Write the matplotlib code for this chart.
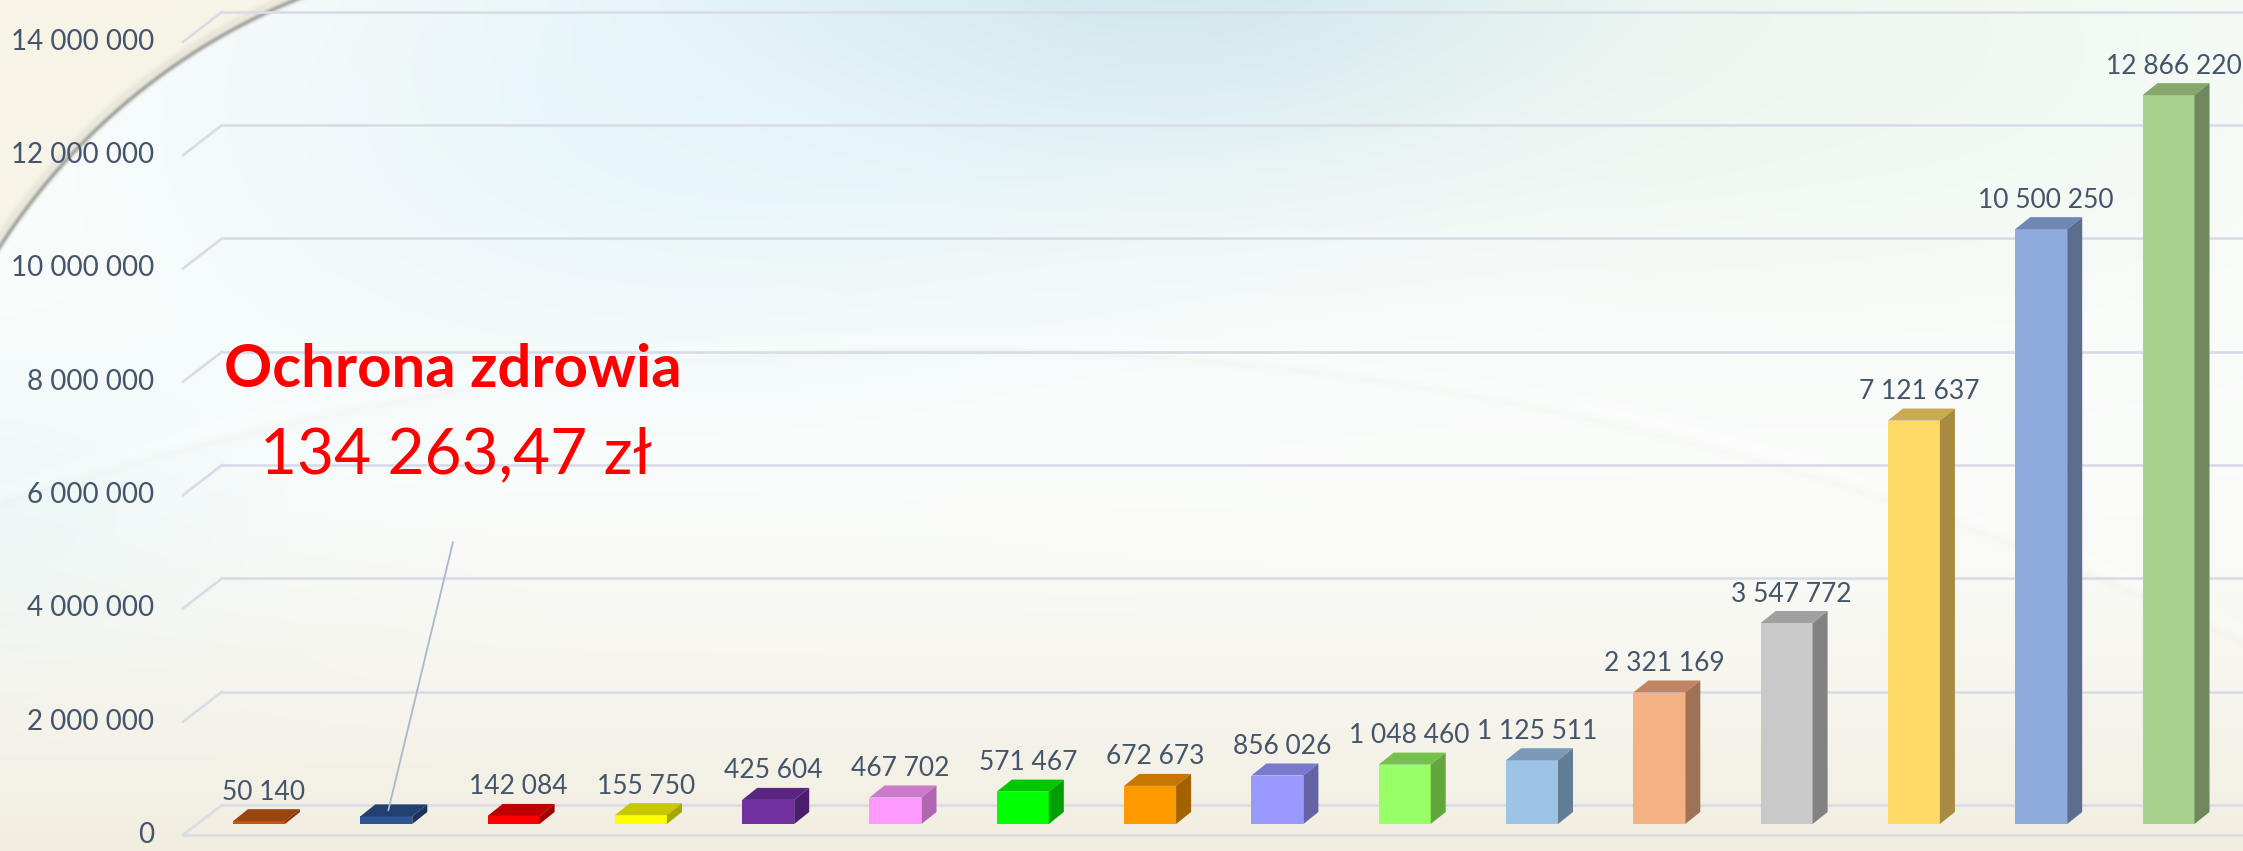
import numpy as np
import matplotlib
matplotlib.use("Agg")
import matplotlib.pyplot as plt
from matplotlib.patches import Polygon

# ---------------- data ----------------
values = [50140, 134263.47, 142084, 155750, 425604, 467702, 571467, 672673,
          856026, 1048460, 1125511, 2321169, 3547772, 7121637, 10500250, 12866220]
front_colors = ['#C65911', '#2F5597', '#FF0000', '#FFFF00', '#7030A0', '#FF99FF',
                '#00FF00', '#FF9900', '#9999FF', '#99FF66', '#9DC3E6', '#F4B183',
                '#C9C9C9', '#FFD966', '#8FAADC', '#A9D18E']
top_colors = ['#9A4510', '#22406F', '#C00000', '#C8C800', '#5A2582', '#CC7ACC',
              '#00C800', '#C87800', '#7A7ACC', '#76C04C', '#7A9AB8', '#C28564',
              '#A0A0A0', '#C9AB50', '#7186B3', '#86A86F']
side_colors = ['#7F380C', '#1C3358', '#A00000', '#A6A600', '#4A1E6C', '#B066B0',
               '#00A000', '#A36200', '#6363A6', '#62A63D', '#637D96', '#9E7254',
               '#828282', '#A68B40', '#5C6D90', '#6E875C']
yticks = [0, 2000000, 4000000, 6000000, 8000000, 10000000, 12000000, 14000000]
ytick_labels = ['0', '2 000 000', '4 000 000', '6 000 000', '8 000 000',
                '10 000 000', '12 000 000', '14 000 000']
callout_index = 1
callout_title = 'Ochrona zdrowia'
callout_value = '134 263,47 zł'

# ---------------- figure ----------------
W, H, DPI = 2243, 851, 100
fig = plt.figure(figsize=(W / DPI, H / DPI), dpi=DPI)

# background (decorative gradient)
Yg, Xg = np.mgrid[0:H, 0:W].astype(float)
bg = np.ones((H, W, 3)) * np.array([0.985, 0.99, 0.985])


def mix(img, col, a):
    a = np.clip(a, 0, 1)[..., None]
    return img * (1 - a) + np.array(col) * a


bg = mix(bg, (0.79, 0.89, 0.92), 0.9 * np.exp(-(((Xg - 1150) / 520) ** 2 + ((Yg + 40) / 220) ** 2)))
bg = mix(bg, (0.88, 0.96, 0.98), 0.55 * np.exp(-(((Xg - 650) / 500) ** 2 + ((Yg - 150) / 250) ** 2)))
bg = mix(bg, (0.91, 0.96, 0.91), 0.5 * np.exp(-(((Xg - 1900) / 500) ** 2 + ((Yg - 60) / 250) ** 2)))
bg = mix(bg, (0.87, 0.96, 0.97), 0.45 * np.exp(-(((Xg + 50) / 300) ** 2 + ((Yg - 520) / 160) ** 2)))
t = np.clip((Yg - 450) / (H - 450), 0, 1)
bg = mix(bg, (0.94, 0.92, 0.86), 0.85 * t ** 1.3)
# faint wide wave
d2 = np.hypot(Xg - 950, Yg - 3350)
bg = mix(bg, (0.88, 0.88, 0.82), 0.12 * np.exp(-((d2 - 3000) / 4.0) ** 2))
bg = mix(bg, (1.0, 1.0, 1.0), 0.25 * np.exp(-((d2 - 3012) / 8.0) ** 2))
# left arc
cx, cy, r = 539, 592, 641
d = np.hypot(Xg - cx, Yg - cy)
region = (Xg < cx) & (Yg < cy)
outside = (d > r) & region
bg = np.where(outside[..., None], mix(bg, (0.97, 0.95, 0.89), np.full_like(d, 0.8)), bg)
ring = np.exp(-((d - r) / 2.5) ** 2) * region
bg = mix(bg, (0.58, 0.58, 0.55), 0.8 * ring)
ring2 = np.exp(-((d - r - 6) / 4.0) ** 2) * region
bg = mix(bg, (0.82, 0.82, 0.78), 0.35 * ring2)
fig.figimage(bg, xo=0, yo=0, origin='upper', zorder=-10)

# ---------------- axes ----------------
ax = fig.add_axes([0, 0, 1, 1], zorder=1)
ax.set_axis_off()
ax.patch.set_alpha(0)
step_px = 127.3          # px per category
x0_px = 259.0            # px of first bar centre
base_px = 824.0          # px (from top) of value 0 at bar plane
ppm = 56.65 / 1e6        # px per unit value
ax.set_xlim(-x0_px / step_px, (W - x0_px) / step_px)
ax.set_ylim(-(H - base_px) / ppm, base_px / ppm)


def X(px):
    return (px - x0_px) / step_px


def dX(px):
    return px / step_px


def dY(px):
    return px / ppm


grid_col = '#D9DCE6'
text_col = '#44546A'
xr = ax.get_xlim()[1]
back_x, front_x = X(222), X(183)
back_dy, front_dy = dY(19), dY(-11)
for g, lab in zip(yticks, ytick_labels):
    ax.plot([back_x, xr], [g + back_dy, g + back_dy], color=grid_col, lw=1.9, zorder=1,
            solid_capstyle='butt')
    ax.plot([front_x, back_x], [g + front_dy, g + back_dy], color=grid_col, lw=1.9, zorder=1)
    ax.text(X(154), g + front_dy, lab, ha='right', va='center', fontsize=20,
            family='Lato', color=text_col, zorder=5)
ax.plot([front_x, xr], [front_dy, front_dy], color=grid_col, lw=1.9, zorder=1)

# ---------------- 3D bars ----------------
x = np.arange(len(values))
bw = 52 / step_px
ddx, ddy = dX(15), dY(12)
ax.bar(x, values, width=bw, color=front_colors, linewidth=0, zorder=3)
for xi, v, tc, sc in zip(x, values, top_colors, side_colors):
    l, rgt = xi - bw / 2, xi + bw / 2
    ax.add_patch(Polygon([(l, v), (rgt, v), (rgt + ddx, v + ddy), (l + ddx, v + ddy)],
                         closed=True, facecolor=tc, edgecolor='none', zorder=3))
    ax.add_patch(Polygon([(rgt, 0), (rgt + ddx, ddy), (rgt + ddx, v + ddy), (rgt, v)],
                         closed=True, facecolor=sc, edgecolor='none', zorder=3))

for i, v in enumerate(values):
    if i == callout_index:
        continue
    lab = f"{int(round(v)):,}".replace(',', ' ')
    ax.text(x[i] + dX(5), v + ddy + dY(17), lab, ha='center', va='center',
            fontsize=19, family='Lato', color=text_col, zorder=5)

# ---------------- callout ----------------
cv = values[callout_index]
ax.annotate('', xy=(x[callout_index] + dX(2), cv + dY(6)),
            xytext=(X(453), (base_px - 542) / ppm),
            arrowprops=dict(arrowstyle='-', color='#AAB7CC', lw=1.3, shrinkA=0, shrinkB=0),
            zorder=4)
ax.text(X(453), (base_px - 370) / ppm, callout_title, ha='center', va='center',
        fontsize=43, fontweight='bold', family='Lato', color='#FF0000', zorder=6)
ax.text(X(456), (base_px - 455) / ppm, callout_value, ha='center', va='center',
        fontsize=46, family='Lato', color='#FF0000', zorder=6)

fig.savefig('out.png', dpi=DPI)
